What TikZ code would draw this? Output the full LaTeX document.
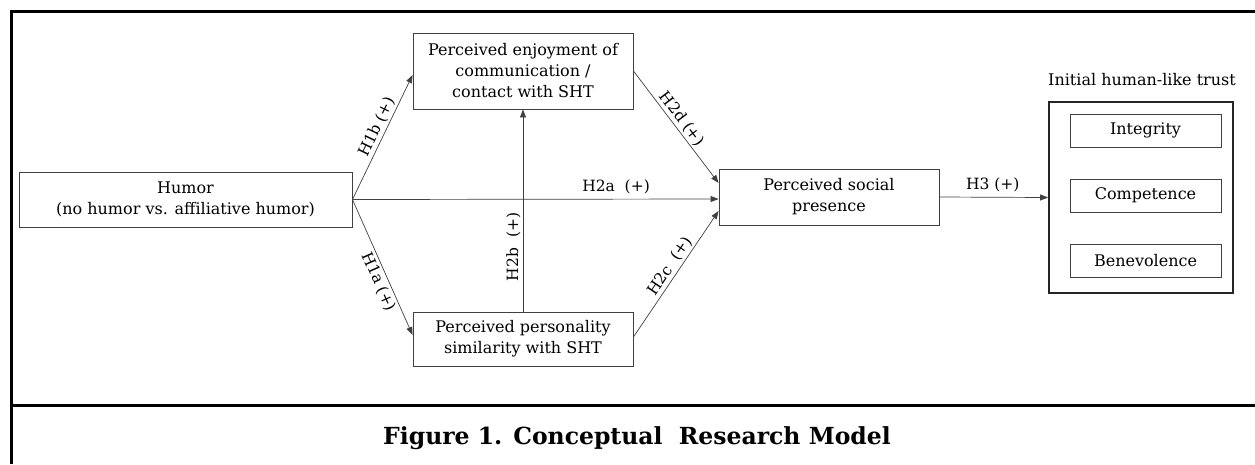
\documentclass[tikz,border=0pt]{standalone}
\usepackage{fontspec}
\setmainfont{DejaVu Serif}
\usetikzlibrary{arrows.meta,calc}
\begin{document}
\begin{tikzpicture}[x=1pt,y=-1pt,
  every node/.style={font=\fontsize{16}{21}\selectfont, text=black},
  box/.style={draw=black!75, line width=0.9pt, align=center, inner sep=0pt},
  conn/.style={draw=black!75, line width=0.7pt, -{Triangle[length=8pt,width=6pt]}},
  lab/.style={sloped, above, inner sep=2pt, font=\fontsize{15.5}{17}\selectfont}]
\useasboundingbox (0,0) rectangle (1255,464);
% frame
\draw[line width=3pt] (1255,11) -- (11,11) -- (11,464);
\draw[line width=3pt] (11,405) -- (1255,405);
\node (cap) at (637,438) {\fontsize{23.5}{26}\selectfont\bfseries Figure 1. Conceptual\ \ Research Model};
% nodes
\node[box, minimum width=333pt, minimum height=55pt] (humor) at (185.5,199.5) {Humor\\(no humor vs. affiliative humor)};
\node[box, minimum width=220pt, minimum height=76pt] (enjoy) at (523,71) {Perceived enjoyment of\\communication /\\contact with SHT};
\node[box, minimum width=220pt, minimum height=54pt] (pers) at (523,339) {Perceived personality\\similarity with SHT};
\node[box, minimum width=220pt, minimum height=56pt] (social) at (829,197) {Perceived social\\presence};
\node[draw=black!85, line width=1.8pt, minimum width=184pt, minimum height=191pt] (trust) at (1141,197.5) {};
\node (ttitle) at (1142,80) {Initial human-like trust};
\node[box, minimum width=151pt, minimum height=33pt] (integ) at (1145.5,130.5) {Integrity};
\node[box, minimum width=151pt, minimum height=33pt] (comp) at (1145.5,195.5) {Competence};
\node[box, minimum width=151pt, minimum height=33pt] (bene) at (1145.5,260.5) {Benevolence};
% connectors
\draw[conn] (humor.east) -- ([yshift=-4pt]enjoy.west) node[lab, pos=0.55] {H1b (+)};
\draw[conn] (humor.east) -- ([yshift=4pt]pers.west) node[lab, below, pos=0.58] {H1a (+)};
\draw[conn] (humor.east) -- ([yshift=-2pt]social.west) node[above=2pt, pos=0.72, font=\fontsize{15.5}{17}\selectfont] {H2a\ \ (+)};
\draw[conn] (pers.north) -- (enjoy.south) node[lab, pos=0.32] {H2b\ \ (+)};
\draw[conn] ([yshift=2pt]pers.east) -- ([yshift=-14pt]social.west) node[lab, pos=0.52] {H2c\ \ (+)};
\draw[conn] (enjoy.east) -- ([yshift=14pt]social.west) node[lab, pos=0.48] {H2d (+)};
\draw[conn] (social.east) -- (trust.west) node[above=2pt, pos=0.49, font=\fontsize{15.5}{17}\selectfont] {H3 (+)};
\end{tikzpicture}
\end{document}
